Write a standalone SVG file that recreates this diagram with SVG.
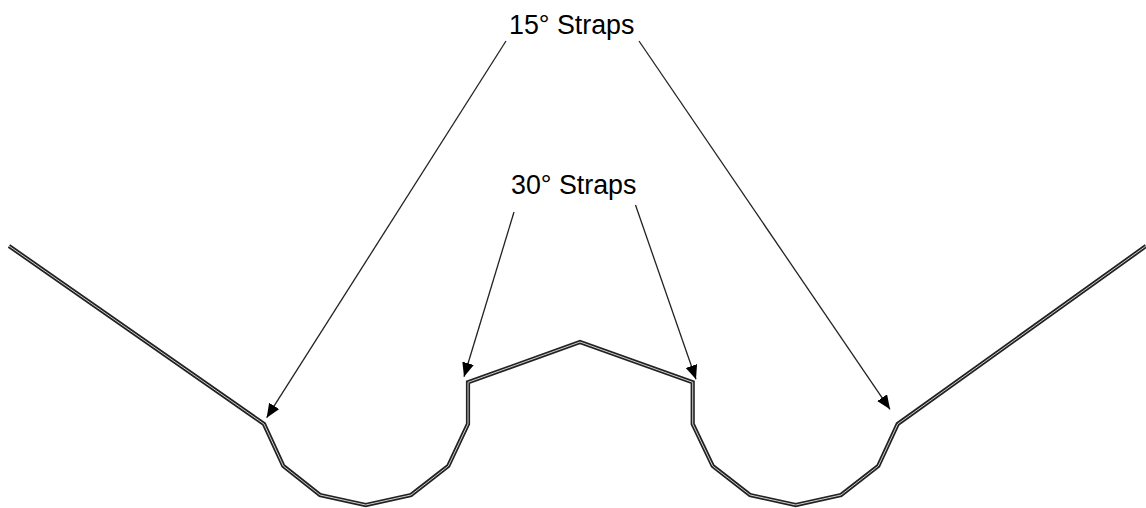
<svg xmlns="http://www.w3.org/2000/svg" width="1146" height="508" viewBox="0 0 1146 508">
<style>
.l{font-family:"Liberation Sans",Arial,sans-serif;font-size:26.8px;fill:#000}
.o{fill:none;stroke:#222;stroke-width:4.2;stroke-linejoin:miter}
.i{fill:none;stroke:#ccc;stroke-width:1;stroke-linejoin:miter}
.a{stroke:#222;stroke-width:1.3;fill:none;marker-end:url(#h)}
</style>
<defs>
<marker id="h" markerUnits="userSpaceOnUse" markerWidth="15" markerHeight="13" refX="14" refY="6" orient="auto"><path d="M0 0L14 6L0 12Z" fill="#000"/></marker>
<path id="p" d="M9 246L264 424L283.3 466L320 495L365.7 505L411 495L448.3 466L468 424V382.3L580 342L692.7 382.3V424L712.7 466L750 495L795.7 505L841 495L878.3 466L897.7 424L1146 246"/>
</defs>
<g id="strap-profile"><use href="#p" class="o"/><use href="#p" class="i"/></g>
<g id="label-15"><text class="l" x="509" y="34">15° Straps</text></g>
<g id="label-30"><text class="l" x="511" y="194">30° Straps</text></g>
<g id="connectors">
<line class="a" x1="506" y1="41" x2="266.7" y2="417.7"/>
<line class="a" x1="639" y1="41" x2="890" y2="409.3"/>
<line class="a" x1="514" y1="212" x2="464" y2="376.7"/>
<line class="a" x1="635.5" y1="205" x2="696" y2="379.3"/>
</g>
</svg>
